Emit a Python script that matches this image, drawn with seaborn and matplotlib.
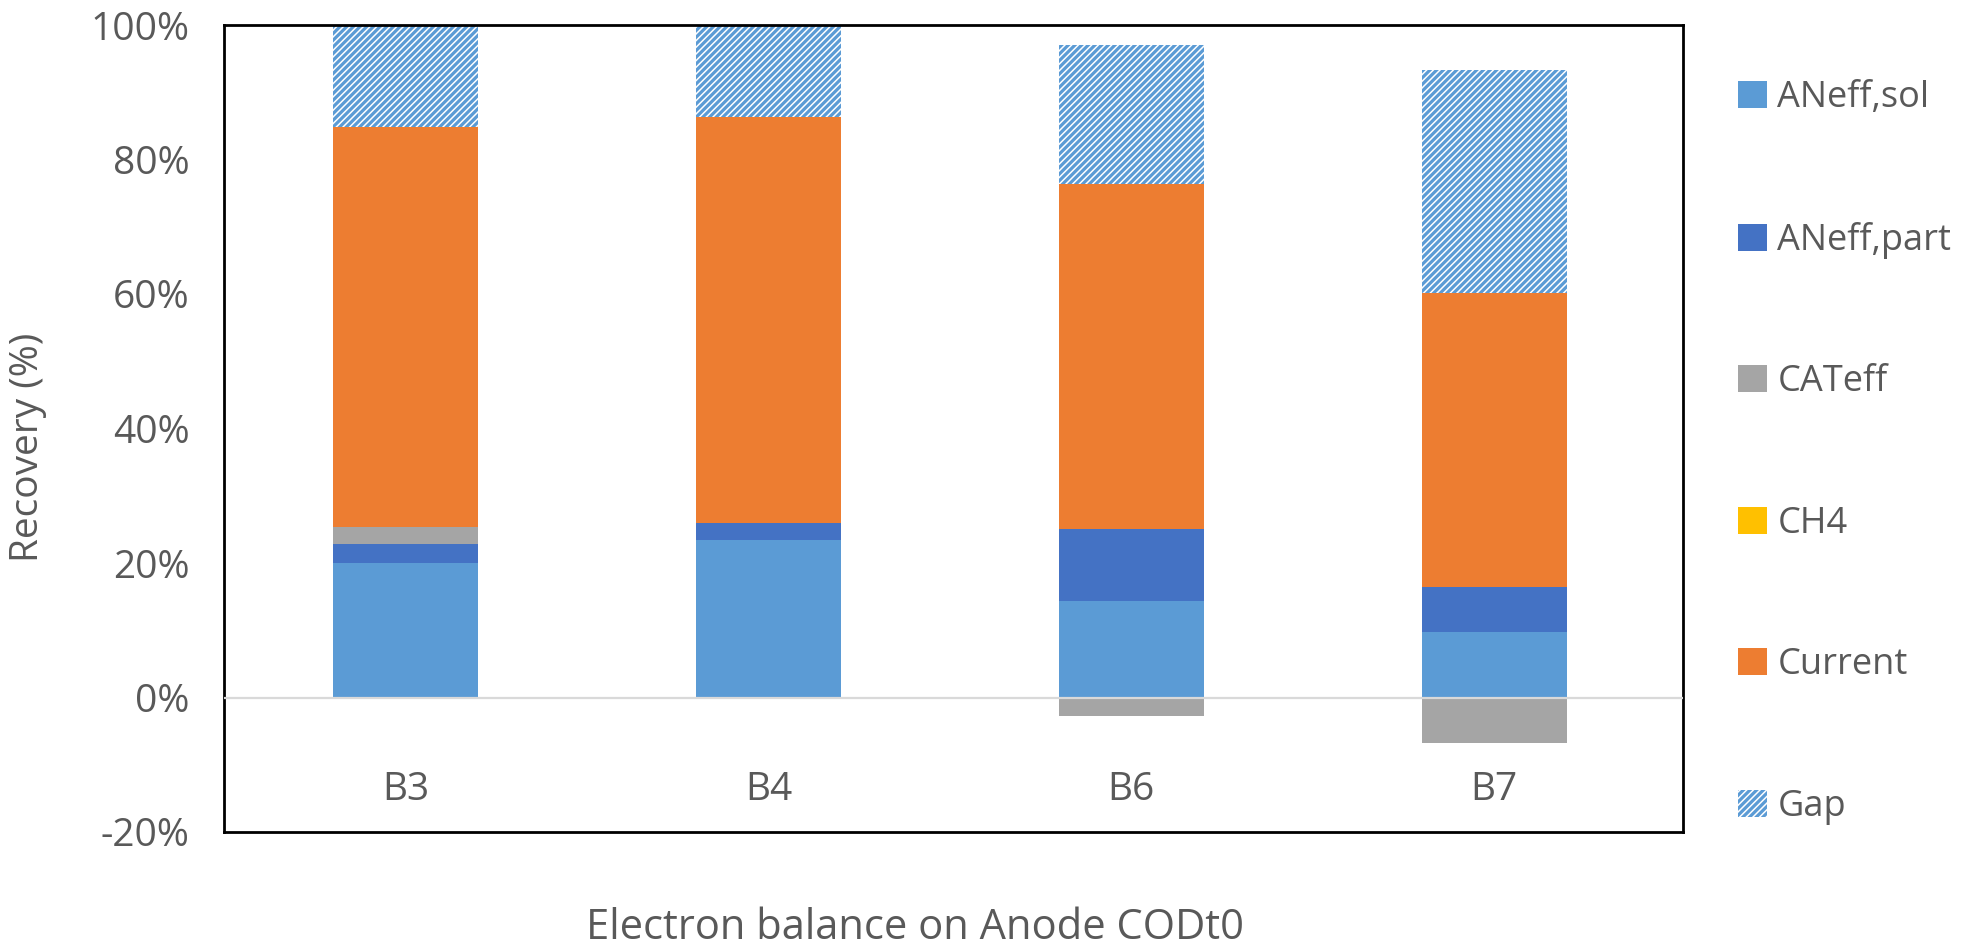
import matplotlib
matplotlib.use("Agg")
import matplotlib.pyplot as plt
from matplotlib.patches import Patch
from matplotlib.ticker import FuncFormatter
import numpy as np
import seaborn as sns

# Electron balance data (% of anode CODt0)
batches = ["B3", "B4", "B6", "B7"]
aneff_sol = [20.0, 23.4, 14.4, 9.8]
aneff_part = [2.8, 2.5, 10.7, 6.6]
cateff = [2.6, 0.0, -2.8, -6.7]
ch4 = [0.0, 0.0, 0.0, 0.0]
current = [59.4, 60.4, 51.2, 43.8]
gap = [15.2, 13.7, 20.8, 33.1]

series_names = ["ANeff,sol", "ANeff,part", "CATeff", "CH4", "Current", "Gap"]
series_values = [aneff_sol, aneff_part, cateff, ch4, current, gap]
series_colors = ["#5B9BD5", "#4472C4", "#A5A5A5", "#FFC000", "#ED7D31", "#5B9BD5"]

y_ticks = [-20, 0, 20, 40, 60, 80, 100]

sns.set_theme(style="white")
plt.rcParams["font.family"] = ["Open Sans", "DejaVu Sans"]
plt.rcParams["hatch.linewidth"] = 2.3

text_color = "#595959"
fs = 28
hatch_pattern = "/////"

fig = plt.figure(figsize=(19.86, 9.46), dpi=100)
ax = fig.add_axes([224 / 1986, 1 - 832 / 946, (1683 - 224) / 1986, (832 - 25) / 946])

pos_base = np.zeros(len(batches))
neg_base = np.zeros(len(batches))
for name, vals, col in zip(series_names, series_values, series_colors):
    vals = np.asarray(vals, dtype=float)
    bottoms = np.where(vals >= 0, pos_base, neg_base)
    hatched = name == "Gap"
    sns.barplot(
        x=batches, y=vals, bottom=bottoms, ax=ax, width=0.4,
        color="white" if hatched else col, saturation=1,
        edgecolor=col if hatched else "none", linewidth=0,
        hatch=hatch_pattern if hatched else None, zorder=2,
    )
    pos_base = pos_base + np.where(vals >= 0, vals, 0)
    neg_base = neg_base + np.where(vals < 0, vals, 0)

ax.axhline(0, color="#D9D9D9", lw=1.6, zorder=3)

ax.set_xlim(-0.5, 3.52)
ax.set_ylim(-20, 100)
ax.set_yticks(y_ticks)
ax.yaxis.set_major_formatter(FuncFormatter(lambda v, _: f"{v:.0f}%"))
ax.tick_params(axis="y", length=0, pad=25, labelsize=fs, labelcolor=text_color)
ax.set_xticks([])
ax.set_xlabel("")
ax.set_ylabel("")

# category labels sit just below the zero line, inside the frame
for i, b in enumerate(batches):
    ax.text(i, -13.8, b, ha="center", va="center", fontsize=fs, color=text_color)

for s in ax.spines.values():
    s.set_visible(True)
    s.set_color("black")
    s.set_linewidth(2)

fig.text(28 / 1986, 1 - 447 / 946, "Recovery (%)", rotation=90, ha="center",
         va="center", fontsize=fs, color=text_color)
fig.text(915 / 1986, 1 - 928 / 946, "Electron balance on Anode CODt0", ha="center",
         va="center", fontsize=30, color=text_color)

handles = []
for name, col in zip(series_names, series_colors):
    if name == "Gap":
        handles.append(Patch(facecolor="white", edgecolor=col, linewidth=0, hatch=hatch_pattern))
    else:
        handles.append(Patch(facecolor=col, edgecolor="none"))
leg = fig.legend(
    handles, series_names, loc="upper left", bbox_to_anchor=(1724 / 1986, 1 - 66 / 946),
    frameon=False, fontsize=26, labelcolor=text_color, labelspacing=2.92,
    handlelength=0.78, handleheight=0.78, handletextpad=0.3, borderaxespad=0,
)

fig.savefig("out.png", dpi=100, facecolor="white")
